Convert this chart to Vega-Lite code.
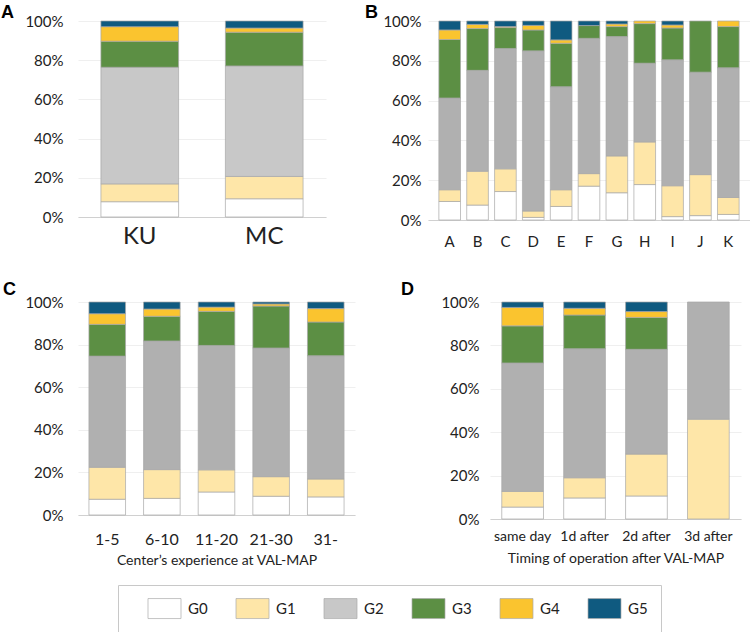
{
  "$schema": "https://vega.github.io/schema/vega-lite/v6.json",
  "padding": {"left": 1, "top": 4, "right": 0, "bottom": 0},
  "background": "white",
  "datasets": {
    "a": [
      {"c": "KU", "g": "G0", "v": 7.8}, {"c": "KU", "g": "G1", "v": 9.1}, {"c": "KU", "g": "G2", "v": 59.5}, {"c": "KU", "g": "G3", "v": 13.3}, {"c": "KU", "g": "G4", "v": 7.4}, {"c": "KU", "g": "G5", "v": 2.9},
      {"c": "MC", "g": "G0", "v": 9.3}, {"c": "MC", "g": "G1", "v": 11.4}, {"c": "MC", "g": "G2", "v": 56.4}, {"c": "MC", "g": "G3", "v": 17.2}, {"c": "MC", "g": "G4", "v": 2.1}, {"c": "MC", "g": "G5", "v": 3.6}
    ],
    "b": [
      {"c": "A", "g": "G0", "v": 9.3}, {"c": "A", "g": "G1", "v": 5.9}, {"c": "A", "g": "G2", "v": 46.1}, {"c": "A", "g": "G3", "v": 29.4}, {"c": "A", "g": "G4", "v": 4.8}, {"c": "A", "g": "G5", "v": 4.5},
      {"c": "B", "g": "G0", "v": 7.5}, {"c": "B", "g": "G1", "v": 17.0}, {"c": "B", "g": "G2", "v": 50.7}, {"c": "B", "g": "G3", "v": 21.0}, {"c": "B", "g": "G4", "v": 2.1}, {"c": "B", "g": "G5", "v": 1.7},
      {"c": "C", "g": "G0", "v": 14.3}, {"c": "C", "g": "G1", "v": 11.4}, {"c": "C", "g": "G2", "v": 60.5}, {"c": "C", "g": "G3", "v": 10.5}, {"c": "C", "g": "G4", "v": 0.5}, {"c": "C", "g": "G5", "v": 2.8},
      {"c": "D", "g": "G0", "v": 1.3}, {"c": "D", "g": "G1", "v": 3.2}, {"c": "D", "g": "G2", "v": 80.5}, {"c": "D", "g": "G3", "v": 10.5}, {"c": "D", "g": "G4", "v": 2.3}, {"c": "D", "g": "G5", "v": 2.2},
      {"c": "E", "g": "G0", "v": 6.8}, {"c": "E", "g": "G1", "v": 8.4}, {"c": "E", "g": "G2", "v": 51.8}, {"c": "E", "g": "G3", "v": 21.8}, {"c": "E", "g": "G4", "v": 1.7}, {"c": "E", "g": "G5", "v": 9.5},
      {"c": "F", "g": "G0", "v": 17.0}, {"c": "F", "g": "G1", "v": 6.3}, {"c": "F", "g": "G2", "v": 68.0}, {"c": "F", "g": "G3", "v": 6.4}, {"c": "F", "g": "G5", "v": 2.3},
      {"c": "G", "g": "G0", "v": 13.7}, {"c": "G", "g": "G1", "v": 18.5}, {"c": "G", "g": "G2", "v": 60.0}, {"c": "G", "g": "G3", "v": 5.0}, {"c": "G", "g": "G4", "v": 1.3}, {"c": "G", "g": "G5", "v": 1.5},
      {"c": "H", "g": "G0", "v": 17.8}, {"c": "H", "g": "G1", "v": 21.4}, {"c": "H", "g": "G2", "v": 39.6}, {"c": "H", "g": "G3", "v": 19.9}, {"c": "H", "g": "G4", "v": 1.3},
      {"c": "I", "g": "G0", "v": 1.7}, {"c": "I", "g": "G1", "v": 15.5}, {"c": "I", "g": "G2", "v": 63.3}, {"c": "I", "g": "G3", "v": 16.0}, {"c": "I", "g": "G4", "v": 1.5}, {"c": "I", "g": "G5", "v": 2.0},
      {"c": "J", "g": "G0", "v": 2.2}, {"c": "J", "g": "G1", "v": 20.6}, {"c": "J", "g": "G2", "v": 51.5}, {"c": "J", "g": "G3", "v": 25.7},
      {"c": "K", "g": "G0", "v": 2.8}, {"c": "K", "g": "G1", "v": 8.5}, {"c": "K", "g": "G2", "v": 65.2}, {"c": "K", "g": "G3", "v": 20.7}, {"c": "K", "g": "G4", "v": 2.8}
    ],
    "c": [
      {"c": "1-5", "g": "G0", "v": 7.4}, {"c": "1-5", "g": "G1", "v": 15.0}, {"c": "1-5", "g": "G2", "v": 52.2}, {"c": "1-5", "g": "G3", "v": 14.9}, {"c": "1-5", "g": "G4", "v": 5.0}, {"c": "1-5", "g": "G5", "v": 5.5},
      {"c": "6-10", "g": "G0", "v": 7.8}, {"c": "6-10", "g": "G1", "v": 13.5}, {"c": "6-10", "g": "G2", "v": 60.4}, {"c": "6-10", "g": "G3", "v": 11.6}, {"c": "6-10", "g": "G4", "v": 3.4}, {"c": "6-10", "g": "G5", "v": 3.3},
      {"c": "11-20", "g": "G0", "v": 10.8}, {"c": "11-20", "g": "G1", "v": 10.4}, {"c": "11-20", "g": "G2", "v": 58.4}, {"c": "11-20", "g": "G3", "v": 16.0}, {"c": "11-20", "g": "G4", "v": 2.0}, {"c": "11-20", "g": "G5", "v": 2.4},
      {"c": "21-30", "g": "G0", "v": 8.8}, {"c": "21-30", "g": "G1", "v": 9.2}, {"c": "21-30", "g": "G2", "v": 60.4}, {"c": "21-30", "g": "G3", "v": 19.7}, {"c": "21-30", "g": "G4", "v": 1.0}, {"c": "21-30", "g": "G5", "v": 0.9},
      {"c": "31-", "g": "G0", "v": 8.5}, {"c": "31-", "g": "G1", "v": 8.4}, {"c": "31-", "g": "G2", "v": 57.9}, {"c": "31-", "g": "G3", "v": 15.8}, {"c": "31-", "g": "G4", "v": 6.3}, {"c": "31-", "g": "G5", "v": 3.1}
    ],
    "d": [
      {"c": "same day", "g": "G0", "v": 5.5}, {"c": "same day", "g": "G1", "v": 7.2}, {"c": "same day", "g": "G2", "v": 59.2}, {"c": "same day", "g": "G3", "v": 17.1}, {"c": "same day", "g": "G4", "v": 8.5}, {"c": "same day", "g": "G5", "v": 2.5},
      {"c": "1d after", "g": "G0", "v": 9.7}, {"c": "1d after", "g": "G1", "v": 9.3}, {"c": "1d after", "g": "G2", "v": 59.5}, {"c": "1d after", "g": "G3", "v": 15.5}, {"c": "1d after", "g": "G4", "v": 3.1}, {"c": "1d after", "g": "G5", "v": 2.9},
      {"c": "2d after", "g": "G0", "v": 10.6}, {"c": "2d after", "g": "G1", "v": 19.3}, {"c": "2d after", "g": "G2", "v": 48.3}, {"c": "2d after", "g": "G3", "v": 14.7}, {"c": "2d after", "g": "G4", "v": 2.7}, {"c": "2d after", "g": "G5", "v": 4.4},
      {"c": "3d after", "g": "G1", "v": 46.0}, {"c": "3d after", "g": "G2", "v": 54.0}
    ]
  },
  "config": {
    "view": {"stroke": null},
    "font": "Lato",
    "axis": {"labelFont": "Lato", "labelColor": "#222222", "titleFont": "Lato", "titleColor": "#222222", "titleFontWeight": "normal", "ticks": false, "gridColor": "#efefef", "domainColor": "#d0d0d0"},
    "axisY": {"domain": false, "grid": true},
    "axisX": {"grid": false},
    "bar": {"stroke": "#a8a8a8", "strokeWidth": 0.7},
    "title": {"font": "Liberation Sans", "fontWeight": "bold", "fontSize": 18, "anchor": "start", "frame": "group", "color": "#000000"}
  },
  "spacing": 32,
  "vconcat": [
    {
      "spacing": 39,
      "hconcat": [
        {
          "data": {"name": "a"},
          "width": 248, "height": 196,
          "title": {"text": "A", "dx": -77, "offset": -8},
          "mark": {"type": "bar"},
          "encoding": {
            "x": {"field": "c", "type": "nominal", "sort": null, "scale": {"paddingInner": 0.376, "paddingOuter": 0.184}, "axis": {"title": null, "labelAngle": 0, "labelFontSize": 24, "labelPadding": 7}},
            "y": {"field": "v", "type": "quantitative", "stack": "normalize", "axis": {"title": null, "values": [0, 0.2, 0.4, 0.6, 0.8, 1], "format": ".0%", "labelFontSize": 15, "labelPadding": 15}},
            "color": {"field": "g", "type": "nominal", "scale": {"domain": ["G0", "G1", "G2", "G3", "G4", "G5"], "range": ["#ffffff", "#fee6a8", "#c8c8c8", "#5c8f44", "#fac42f", "#0f5a80"]},
              "legend": {"orient": "none", "legendX": 40, "legendY": 564, "direction": "horizontal", "columns": 6, "title": null, "symbolType": "M-1.65,-1H1.65V1H-1.65Z", "symbolSize": 400, "symbolStrokeColor": "#aaaaaa", "symbolStrokeWidth": 1, "symbolOffset": 23, "labelOffset": 13, "labelFontSize": 15, "labelFont": "Lato", "labelColor": "#222222", "columnPadding": 11, "padding": 13, "strokeColor": "#c8c8c8", "fillColor": "white",
                "encode": {"symbols": {"update": {"stroke": {"value": "#aaaaaa"}, "strokeWidth": {"value": 1}}}}}},
            "order": {"field": "g", "sort": "ascending"}
          }
        },
        {
          "data": {"name": "b"},
          "width": 322, "height": 199,
          "title": {"text": "B", "dx": -63, "offset": -8},
          "mark": {"type": "bar"},
          "encoding": {
            "x": {"field": "c", "type": "nominal", "sort": null, "scale": {"paddingInner": 0.223, "paddingOuter": 0.39}, "axis": {"title": null, "labelAngle": 0, "labelFontSize": 15, "labelPadding": 14}},
            "y": {"field": "v", "type": "quantitative", "stack": "normalize", "axis": {"title": null, "values": [0, 0.2, 0.4, 0.6, 0.8, 1], "format": ".0%", "labelFontSize": 15, "labelPadding": 7}},
            "color": {"field": "g", "type": "nominal", "scale": {"domain": ["G0", "G1", "G2", "G3", "G4", "G5"], "range": ["#ffffff", "#fee6a8", "#c8c8c8", "#5c8f44", "#fac42f", "#0f5a80"]},
              "condition": {"test": "datum.g === 'G2'", "value": "#b0b0b0"}},
            "order": {"field": "g", "sort": "ascending"}
          }
        }
      ]
    },
    {
      "spacing": 46,
      "hconcat": [
        {
          "data": {"name": "c"},
          "width": 277, "height": 213,
          "title": {"text": "C", "dx": -75, "offset": -4},
          "mark": {"type": "bar"},
          "encoding": {
            "x": {"field": "c", "type": "nominal", "sort": null, "scale": {"paddingInner": 0.33, "paddingOuter": 0.2}, "axis": {"title": "Center\u2019s experience at VAL-MAP", "titleFontSize": 14, "titlePadding": 6, "labelAngle": 0, "labelFontSize": 16, "labelPadding": 16}},
            "y": {"field": "v", "type": "quantitative", "stack": "normalize", "axis": {"title": null, "values": [0, 0.2, 0.4, 0.6, 0.8, 1], "format": ".0%", "labelFontSize": 15, "labelPadding": 15}},
            "color": {"field": "g", "type": "nominal", "scale": {"domain": ["G0", "G1", "G2", "G3", "G4", "G5"], "range": ["#ffffff", "#fee6a8", "#c8c8c8", "#5c8f44", "#fac42f", "#0f5a80"]},
              "condition": {"test": "datum.g === 'G2'", "value": "#b0b0b0"}},
            "order": {"field": "g", "sort": "ascending"}
          }
        },
        {
          "data": {"name": "d"},
          "width": 251, "height": 217,
          "title": {"text": "D", "dx": -89, "offset": -4},
          "mark": {"type": "bar"},
          "encoding": {
            "x": {"field": "c", "type": "nominal", "sort": null, "scale": {"paddingInner": 0.326, "paddingOuter": 0.19}, "axis": {"title": "Timing of operation after VAL-MAP", "titleFontSize": 14, "titlePadding": 8, "labelAngle": 0, "labelFontSize": 14, "labelPadding": 10}},
            "y": {"field": "v", "type": "quantitative", "stack": "normalize", "axis": {"title": null, "values": [0, 0.2, 0.4, 0.6, 0.8, 1], "format": ".0%", "labelFontSize": 15, "labelPadding": 11}},
            "color": {"field": "g", "type": "nominal", "scale": {"domain": ["G0", "G1", "G2", "G3", "G4", "G5"], "range": ["#ffffff", "#fee6a8", "#c8c8c8", "#5c8f44", "#fac42f", "#0f5a80"]},
              "condition": {"test": "datum.g === 'G2'", "value": "#b0b0b0"}},
            "order": {"field": "g", "sort": "ascending"}
          }
        }
      ]
    }
  ]
}
